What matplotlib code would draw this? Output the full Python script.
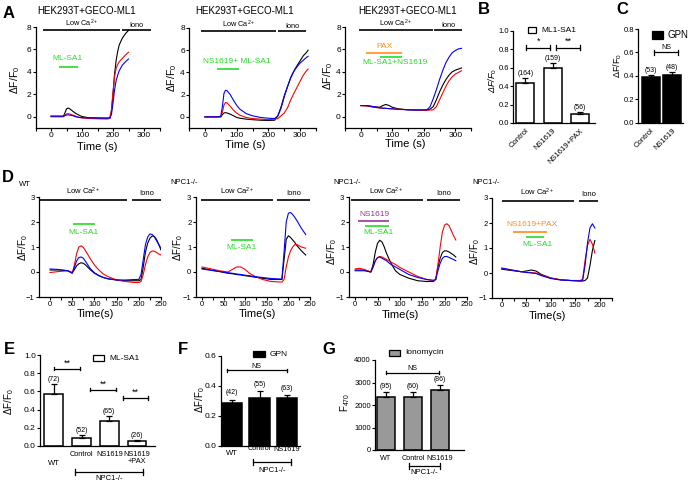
import matplotlib
matplotlib.use('Agg')
import matplotlib.pyplot as plt
from matplotlib.patches import Rectangle
from matplotlib.transforms import blended_transform_factory
import numpy as np

plt.rcParams['font.family'] = ['Liberation Sans', 'DejaVu Sans']
plt.rcParams['mathtext.fontset'] = 'custom'
plt.rcParams['mathtext.rm'] = 'Liberation Sans'
plt.rcParams['mathtext.it'] = 'Liberation Sans:italic'
plt.rcParams['axes.linewidth'] = 0.9

# ---- traces, panel A (time in s, dF/F0) ----
t_a1 = [0, 20, 40, 45, 50, 55, 60, 70, 80, 90, 100, 120, 150, 180, 190, 195, 200, 205, 210, 215, 220, 230, 240, 250]
k_a1 = [0.05, 0.05, 0.05, 0.35, 0.7, 0.78, 0.72, 0.5, 0.3, 0.15, 0.02, -0.08, -0.1, -0.12, -0.1, 0.5, 2.0, 3.8, 5.0, 5.8, 6.4, 7.0, 7.4, 7.7]
r_a1 = [0.0, 0.0, 0.0, 0.15, 0.25, 0.28, 0.25, 0.15, 0.05, -0.05, -0.1, -0.15, -0.18, -0.2, -0.15, 0.6, 2.2, 3.6, 4.3, 4.65, 4.9, 5.2, 5.5, 5.75]
b_a1 = [0.05, 0.05, 0.05, 0.1, 0.15, 0.18, 0.15, 0.1, 0.0, -0.05, -0.08, -0.1, -0.12, -0.12, -0.1, 0.2, 1.2, 2.4, 3.2, 3.7, 4.1, 4.6, 4.9, 5.15]

t_a2 = [0, 20, 40, 50, 55, 60, 65, 70, 80, 90, 100, 110, 130, 150, 175, 200, 220, 230, 240, 250, 260, 270, 280, 290, 300, 310, 320, 325]
k_a2 = [0, 0, 0, 0.0, 0.2, 0.35, 0.38, 0.35, 0.25, 0.1, -0.05, -0.12, -0.2, -0.25, -0.3, -0.32, -0.3, 0.1, 0.9, 1.9, 2.7, 3.5, 4.1, 4.6, 5.05, 5.5, 5.8, 6.0]
r_a2 = [0, 0, 0, 0.0, 0.4, 1.05, 1.3, 1.25, 0.95, 0.6, 0.35, 0.15, -0.05, -0.15, -0.2, -0.25, -0.2, -0.15, 0.1, 0.35, 0.8, 1.5, 2.1, 2.65, 3.2, 3.75, 4.15, 4.3]
b_a2 = [0, 0, 0, 0.05, 0.9, 2.1, 2.4, 2.35, 2.0, 1.5, 1.05, 0.7, 0.3, 0.1, -0.05, -0.12, -0.15, 0.1, 0.8, 1.8, 2.7, 3.5, 4.1, 4.5, 4.85, 5.1, 5.35, 5.45]

t_a3 = [0, 20, 40, 60, 70, 80, 90, 100, 120, 150, 180, 210, 220, 230, 240, 250, 260, 270, 280, 290, 300, 310, 320]
k_a3 = [1.0, 1.0, 0.9, 0.85, 1.0, 1.1, 1.0, 0.85, 0.7, 0.62, 0.6, 0.6, 0.68, 0.9, 1.5, 2.2, 2.8, 3.3, 3.7, 4.0, 4.15, 4.25, 4.35]
r_a3 = [1.0, 0.95, 0.85, 0.78, 0.76, 0.75, 0.73, 0.72, 0.68, 0.63, 0.6, 0.58, 0.6, 0.62, 0.9, 1.5, 2.1, 2.7, 3.2, 3.55, 3.8, 3.95, 4.1]
b_a3 = [1.0, 1.0, 0.9, 0.8, 0.78, 0.75, 0.72, 0.7, 0.66, 0.62, 0.6, 0.62, 0.9, 1.6, 2.4, 3.3, 4.1, 4.8, 5.3, 5.7, 5.9, 6.05, 6.1]

# ---- traces, panel D ----
t_d1 = [0, 20, 40, 50, 55, 60, 65, 70, 75, 80, 90, 100, 110, 120, 130, 150, 170, 190, 200, 205, 210, 215, 220, 225, 230, 235, 240, 245, 250]
k_d1 = [0.08, 0.08, 0.05, -0.02, 0.1, 0.25, 0.33, 0.37, 0.35, 0.28, 0.1, -0.05, -0.15, -0.22, -0.27, -0.32, -0.35, -0.35, -0.35, -0.3, 0.2, 0.8, 1.15, 1.35, 1.44, 1.42, 1.3, 1.1, 0.88]
r_d1 = [-0.02, 0.02, 0.05, -0.05, 0.3, 0.75, 1.0, 1.05, 0.98, 0.85, 0.55, 0.28, 0.08, -0.08, -0.18, -0.32, -0.38, -0.42, -0.42, -0.38, -0.1, 0.3, 0.6, 0.78, 0.84, 0.83, 0.78, 0.72, 0.68]
b_d1 = [0.12, 0.1, 0.05, -0.05, 0.2, 0.45, 0.58, 0.6, 0.55, 0.42, 0.15, -0.03, -0.14, -0.22, -0.27, -0.32, -0.32, -0.3, -0.3, -0.1, 0.5, 1.1, 1.4, 1.52, 1.5, 1.4, 1.25, 1.1, 0.95]

t_d2 = [0, 20, 40, 60, 70, 80, 90, 100, 110, 120, 140, 160, 180, 185, 190, 195, 200, 205, 210, 215, 220, 230, 240]
k_d2 = [0.15, 0.08, 0.02, -0.05, -0.07, -0.1, -0.12, -0.15, -0.17, -0.2, -0.25, -0.3, -0.3, -0.3, 0.5, 1.3, 1.45, 1.38, 1.28, 1.18, 1.05, 0.85, 0.68]
r_d2 = [0.2, 0.13, 0.05, 0.0, 0.1, 0.2, 0.2, 0.1, -0.05, -0.15, -0.3, -0.38, -0.4, -0.4, -0.3, 0.2, 0.6, 0.85, 1.0, 1.1, 1.1, 1.0, 0.95]
b_d2 = [0.12, 0.07, 0.02, -0.03, -0.05, -0.08, -0.1, -0.13, -0.15, -0.18, -0.22, -0.26, -0.28, -0.28, 0.8, 2.0, 2.35, 2.38, 2.3, 2.18, 2.05, 1.75, 1.5]

t_d3 = [0, 10, 20, 35, 40, 45, 50, 55, 60, 65, 70, 80, 90, 100, 120, 140, 160, 175, 180, 185, 190, 195, 200, 205, 210, 215, 220, 225]
k_d3 = [0.08, 0.08, 0.08, 0.0, 0.3, 0.8, 1.15, 1.27, 1.2, 1.0, 0.75, 0.35, 0.05, -0.1, -0.25, -0.35, -0.38, -0.38, -0.3, 0.2, 0.55, 0.78, 0.85, 0.84, 0.8, 0.74, 0.68, 0.6]
r_d3 = [0.12, 0.15, 0.1, 0.0, 0.2, 0.45, 0.58, 0.62, 0.6, 0.55, 0.5, 0.4, 0.3, 0.18, 0.0, -0.18, -0.3, -0.35, -0.3, 0.3, 1.0, 1.6, 1.88, 1.93, 1.85, 1.65, 1.45, 1.28]
b_d3 = [0.05, 0.05, 0.05, 0.0, 0.2, 0.45, 0.57, 0.6, 0.55, 0.5, 0.45, 0.3, 0.2, 0.1, -0.1, -0.22, -0.3, -0.33, -0.3, 0.05, 0.35, 0.55, 0.62, 0.62, 0.58, 0.54, 0.5, 0.45]

t_d4 = [0, 20, 40, 50, 60, 70, 80, 100, 120, 140, 160, 165, 170, 175, 180, 185, 190]
k_d4 = [0.15, 0.1, 0.05, 0.08, 0.12, 0.08, -0.05, -0.2, -0.27, -0.3, -0.32, -0.32, -0.3, -0.2, 0.3, 0.9, 1.3]
r_d4 = [0.18, 0.12, 0.05, 0.03, 0.02, 0.0, -0.08, -0.2, -0.27, -0.3, -0.3, -0.25, 0.5, 1.1, 1.35, 1.15, 0.8]
b_d4 = [0.2, 0.12, 0.05, 0.02, 0.0, -0.02, -0.1, -0.22, -0.28, -0.3, -0.32, -0.3, 0.3, 1.2, 1.8, 1.97, 1.8]

# ---- bar data ----
cat_b = ['Control', 'NS1619', 'NS1619+PAX']
val_b = [0.44, 0.60, 0.10]
err_b = [0.045, 0.05, 0.015]
n_b = ['(164)', '(159)', '(56)']

cat_c = ['Control', 'NS1619']
val_c = [0.39, 0.41]
err_c = [0.015, 0.02]
n_c = ['(53)', '(48)']

cat_e = ['WT', 'Control', 'NS1619', 'NS1619\n+PAX']
val_e = [0.57, 0.09, 0.28, 0.05]
err_e = [0.11, 0.03, 0.055, 0.015]
n_e = ['(72)', '(52)', '(65)', '(26)']

cat_f = ['WT', 'Control', 'NS1619']
val_f = [0.287, 0.323, 0.32]
err_f = [0.023, 0.042, 0.018]
n_f = ['(42)', '(55)', '(63)']

cat_g = ['WT', 'Control', 'NS1619']
val_g = [2340, 2370, 2670]
err_g = [240, 210, 210]
n_g = ['(95)', '(60)', '(86)']

W, H = 700, 483
fig = plt.figure(figsize=(7, 4.83), dpi=100)
YL = 'ΔF/F$_0$'


def fy(py):
    return 1 - py / H


def ftext(px, py, s, **kw):
    fig.text(px / W, fy(py), s, **kw)


def make_ax(l, t, r, b):
    ax = fig.add_axes([l / W, fy(b), (r - l) / W, (b - t) / H])
    ax.patch.set_alpha(0)
    ax.spines['top'].set_visible(False)
    ax.spines['right'].set_visible(False)
    ax.tick_params(which='both', direction='out', length=2, width=0.8, pad=1)
    return ax


def trace_ax(box, t, k, r, b, xlim, ylim, xt, xm, yt, fs):
    ax = make_ax(*box)
    ax.plot(t, k, color='black', lw=0.8)
    ax.plot(t, r, color='red', lw=0.8)
    ax.plot(t, b, color='blue', lw=0.8)
    ax.set_xlim(xlim)
    ax.set_ylim(ylim)
    ax.set_xticks(xt)
    ax.set_xticks(xm, minor=True)
    ax.set_yticks(yt)
    ax.tick_params(labelsize=fs)
    return ax


def hbar(ax, x0, x1, y, color='black', lw=1.2):
    ax.plot([x0, x1], [y, y], color=color, lw=lw, clip_on=False, solid_capstyle='butt')


def bar_ax(box, vals, errs, ns, color, xlim, ylim, yt, ylabs, width, nlift, fs=5):
    ax = make_ax(*box)
    x = np.arange(len(vals))
    ax.bar(x, vals, width, color=color, edgecolor='black', linewidth=1.1)
    ax.errorbar(x, vals, yerr=[np.zeros(len(vals)), errs], fmt='none', ecolor='black',
                elinewidth=0.9, capsize=2.5, capthick=0.9)
    for i in range(len(vals)):
        ax.text(x[i], vals[i] + errs[i] + nlift, ns[i], ha='center', va='bottom', fontsize=fs)
    ax.set_xlim(xlim)
    ax.set_ylim(ylim)
    ax.set_yticks(yt)
    ax.set_yticklabels(ylabs)
    ax.set_xticks([])
    return ax


def sig(ax, x0, x1, y, h, s, dy, fs=6.5):
    ax.plot([x0, x1], [y, y], color='black', lw=0.9, clip_on=False)
    ax.plot([x0, x0], [y - h, y + h], color='black', lw=0.9, clip_on=False)
    ax.plot([x1, x1], [y - h, y + h], color='black', lw=0.9, clip_on=False)
    ax.text((x0 + x1) / 2, y + dy, s, ha='center', va='bottom', fontsize=fs)


def legend_box(px, py, w, h, color, label, fs):
    fig.add_artist(Rectangle((px / W, fy(py + h / 2)), w / W, h / H, transform=fig.transFigure,
                             facecolor=color, edgecolor='black', lw=0.9))
    ftext(px + w + 5, py, label, fontsize=fs, va='center')


def npc_bracket(ax, x0, x1, py, ty, fs):
    tr = blended_transform_factory(ax.transData, fig.transFigure)
    ax.plot([x0, x1], [fy(py), fy(py)], color='black', lw=0.9, transform=tr, clip_on=False)
    for xx in (x0, x1):
        ax.plot([xx, xx], [fy(py - 3), fy(py + 3)], color='black', lw=0.9, transform=tr, clip_on=False)
    ax.text((x0 + x1) / 2, fy(ty), 'NPC1-/-', ha='center', va='center', fontsize=fs, transform=tr)


def xlab(ax, xs, py, labels, fs, va='top'):
    tr = blended_transform_factory(ax.transData, fig.transFigure)
    for xx, p, s in zip(xs, py, labels):
        ax.text(xx, fy(p), s, ha='center', va=va, fontsize=fs, transform=tr, linespacing=1.0)


# ---------------- panel A ----------------
a_boxes = [(35.5, 27, 159.5, 128), (189, 28, 316, 128), (345, 27, 471, 128)]
a_data = [(t_a1, k_a1, r_a1, b_a1), (t_a2, k_a2, r_a2, b_a2), (t_a3, k_a3, r_a3, b_a3)]
a_lowca = [(-26, 224), (-12, 225), (-6, 229)]
a_iono = [(229, 323), (231, 319), (232, 323)]
a_title_x = [37, 195, 358]
a_ylab = [(15, 80), (172, 78), (328, 76)]
a_xlab = [(97, 147), (245, 145), (405, 144)]
for i in range(3):
    ax = trace_ax(a_boxes[i], *a_data[i], (-50, 350), (-1, 8), [0, 100, 200, 300],
                  [-50, 50, 150, 250, 350], [0, 2, 4, 6, 8], 6)
    hbar(ax, *a_lowca[i], 7.7)
    hbar(ax, *a_iono[i], 7.7)
    ax.text(sum(a_lowca[i]) / 2, 7.78, 'Low Ca$^{2+}$', ha='center', va='bottom', fontsize=5.3)
    ax.text(sum(a_iono[i]) / 2, 7.78, 'Iono', ha='center', va='bottom', fontsize=5.3)
    ftext(a_title_x[i], 11, 'HEK293T+GECO-ML1', fontsize=7, va='center')
    ftext(*a_ylab[i], YL, fontsize=7.5, rotation=90, ha='center', va='center')
    ftext(*a_xlab[i], 'Time (s)', fontsize=8, ha='center', va='center')
    if i == 0:
        hbar(ax, 26, 87, 4.4, color='#22dd22')
        ax.text(52, 5.2, 'ML-SA1', color='#22dd22', ha='center', va='center', fontsize=6)
    elif i == 1:
        hbar(ax, 37, 106, 4.3, color='#22dd22')
        ax.text(100, 5.0, 'NS1619+ ML-SA1', color='#22dd22', ha='center', va='center', fontsize=6)
    else:
        hbar(ax, 16, 132, 5.7, color='#ff8c1a')
        ax.text(74, 6.3, 'PAX', color='#ff8c1a', ha='center', va='center', fontsize=6)
        hbar(ax, 61, 132, 5.3, color='#22dd22')
        ax.text(110, 4.8, 'ML-SA1+NS1619', color='#22dd22', ha='center', va='center', fontsize=6)

# ---------------- panel B ----------------
ax = bar_ax((513, 31, 595, 123), val_b, err_b, n_b, 'white', (-0.45, 2.55), (0, 1),
            [0, 0.2, 0.4, 0.6, 0.8, 1.0], ['0.0', '0.2', '0.4', '0.6', '0.8', '1.0'], 0.65, 0.01)
ax.tick_params(labelsize=5.5)
ax.set_xticks(range(3))
ax.set_xticklabels(cat_b, rotation=45, ha='right', rotation_mode='anchor', fontsize=5.5)
ax.tick_params(axis='x', length=0, pad=3)
sig(ax, 0.04, 0.91, 0.82, 0.025, '*', 0.015)
sig(ax, 1.13, 2.0, 0.82, 0.025, '**', 0.015)
ftext(493, 80, YL, fontsize=6.5, rotation=90, ha='center', va='center', style='italic')
legend_box(528, 30, 8, 6, 'white', 'ML1-SA1', 6)

# ---------------- panel C ----------------
ax = bar_ax((638, 29, 683, 123), val_c, err_c, n_c, 'black', (-0.62, 1.52), (0, 0.8),
            [0, 0.2, 0.4, 0.6, 0.8], ['0.0', '0.2', '0.4', '0.6', '0.8'], 0.86, 0.01)
ax.tick_params(labelsize=5.5)
ax.set_xticks(range(2))
ax.set_xticklabels(cat_c, rotation=45, ha='right', rotation_mode='anchor', fontsize=5.5)
ax.tick_params(axis='x', length=0, pad=3)
sig(ax, 0.14, 1.3, 0.6, 0.02, 'NS', 0.01, fs=5)
ftext(618, 66, YL, fontsize=6.5, rotation=90, ha='center', va='center')
legend_box(652, 35, 11, 8, 'black', 'GPN', 7)

# ---------------- panel D ----------------
d_boxes = [(39, 197, 161, 297), (195.5, 197, 310, 297), (348.5, 197, 467, 297), (492, 198, 612, 298)]
d_data = [(t_d1, k_d1, r_d1, b_d1), (t_d2, k_d2, r_d2, b_d2), (t_d3, k_d3, r_d3, b_d3), (t_d4, k_d4, r_d4, b_d4)]
d_xlim = [(-25, 250), (-15, 250), (-15, 250), (-20, 225)]
d_lowca = [(-25, 173), (-2, 165), (-10, 151), (0, 147)]
d_iono = [(185, 250), (173, 250), (160, 235), (157, 196)]
d_head = [(25, 185, 'WT'), (184, 183, 'NPC1-/-'), (347, 183, 'NPC1-/-'), (486, 183, 'NPC1-/-')]
d_ylab = [(23, 248), (178, 248), (332, 252), (475, 252)]
d_xlab = [(95, 314), (257, 314), (400, 315), (547, 316)]
for i in range(4):
    xt = [0, 50, 100, 150, 200, 250] if i < 3 else [0, 50, 100, 150, 200]
    xm = [25, 75, 125, 175, 225]
    ax = trace_ax(d_boxes[i], *d_data[i], d_xlim[i], (-1, 3), xt, xm, [-1, 0, 1, 2, 3], 5.5)
    hbar(ax, *d_lowca[i], 2.88)
    hbar(ax, *d_iono[i], 2.88)
    ax.text(sum(d_lowca[i]) / 2, 3.0, 'Low Ca$^{2+}$', ha='center', va='bottom', fontsize=5.5)
    ax.text(sum(d_iono[i]) / 2, 3.0, 'Iono', ha='center', va='bottom', fontsize=5.5)
    ftext(d_head[i][0], d_head[i][1], d_head[i][2], fontsize=5.5, ha='center', va='center')
    ftext(*d_ylab[i], YL, fontsize=7, rotation=90, ha='center', va='center')
    ftext(*d_xlab[i], 'Time(s)', fontsize=8, ha='center', va='center')

ax = fig.axes[-4]
hbar(ax, 52, 101, 1.93, color='#22dd22')
ax.text(76, 1.6, 'ML-SA1', color='#22dd22', ha='center', va='center', fontsize=6)
ax = fig.axes[-3]
hbar(ax, 68, 117, 1.3, color='#22dd22')
ax.text(92, 0.97, 'ML-SA1', color='#22dd22', ha='center', va='center', fontsize=6)
ax = fig.axes[-2]
hbar(ax, 7, 76, 2.03, color='#993399')
ax.text(43, 2.3, 'NS1619', color='#993399', ha='center', va='center', fontsize=6)
hbar(ax, 22, 75, 1.83, color='#22dd22')
ax.text(52, 1.58, 'ML-SA1', color='#22dd22', ha='center', va='center', fontsize=6)
ax = fig.axes[-1]
hbar(ax, 22, 93, 1.65, color='#ff8c1a')
ax.text(62, 1.92, 'NS1619+PAX', color='#ff8c1a', ha='center', va='center', fontsize=6)
hbar(ax, 50, 87, 1.43, color='#22dd22')
ax.text(72, 1.13, 'ML-SA1', color='#22dd22', ha='center', va='center', fontsize=6)

# ---------------- panel E ----------------
ax = bar_ax((40, 355, 155, 446), val_e, err_e, n_e, 'white', (-0.5, 3.65), (0, 1),
            [0, 0.2, 0.4, 0.6, 0.8, 1.0], ['0.0', '0.2', '0.4', '0.6', '0.8', '1.0'], 0.68, 0.01)
ax.tick_params(labelsize=6)
sig(ax, 0.0, 0.95, 0.85, 0.02, '**', 0.01)
sig(ax, 1.3, 2.25, 0.62, 0.02, '**', 0.01)
sig(ax, 2.5, 3.4, 0.53, 0.02, '**', 0.01)
xlab(ax, [0], [460], ['WT'], 5.5)
xlab(ax, [1, 2, 3], [451, 451, 451], cat_e[1:], 5.3)
npc_bracket(ax, 0.76, 3.2, 472, 479, 5.5)
ftext(9, 402, YL, fontsize=7, rotation=90, ha='center', va='center')
legend_box(93, 358, 11, 6, 'white', 'ML-SA1', 6)

# ---------------- panel F ----------------
ax = bar_ax((221, 356, 300, 446), val_f, err_f, n_f, 'black', (-0.4, 2.47), (0, 0.6),
            [0, 0.2, 0.4, 0.6], ['0.0', '0.2', '0.4', '0.6'], 0.73, 0.025)
ax.tick_params(labelsize=6)
sig(ax, -0.2, 2.0, 0.504, 0.012, 'NS', 0.005, fs=5)
xlab(ax, [0], [450], ['WT'], 5.5)
xlab(ax, [1, 2], [445, 446], cat_f[1:], 5.2)
npc_bracket(ax, 0.76, 2.15, 462, 471, 5.5)
ftext(200, 400, YL, fontsize=7, rotation=90, ha='center', va='center')
legend_box(253, 354, 12, 6, 'black', 'GPN', 6)

# ---------------- panel G ----------------
ax = bar_ax((375, 360, 464, 450), val_g, err_g, n_g, '#999999', (-0.41, 2.89), (0, 4000),
            [0, 1000, 2000, 3000, 4000], ['0', '1000', '2000', '3000', '4000'], 0.67, 80)
ax.tick_params(labelsize=5.5)
sig(ax, 0.0, 1.95, 3440, 80, 'NS', 40, fs=5)
xlab(ax, [0, 1, 2], [455, 455, 455], cat_g, 5.2)
npc_bracket(ax, 0.85, 2.0, 466, 473, 5.5)
ftext(345, 402, 'F$_{470}$', fontsize=7, rotation=90, ha='center', va='center')
legend_box(389, 353, 11, 6, '#999999', 'Ionomycin', 6)

# ---------------- panel letters ----------------
for px, py, s in [(9, 13, 'A'), (484, 10, 'B'), (622, 9, 'C'), (8, 177, 'D'),
                  (9, 350, 'E'), (183, 350, 'F'), (329, 350, 'G')]:
    ftext(px, py, s, fontsize=12, fontweight='bold', ha='center', va='center')

fig.savefig('out.png', dpi=100)
